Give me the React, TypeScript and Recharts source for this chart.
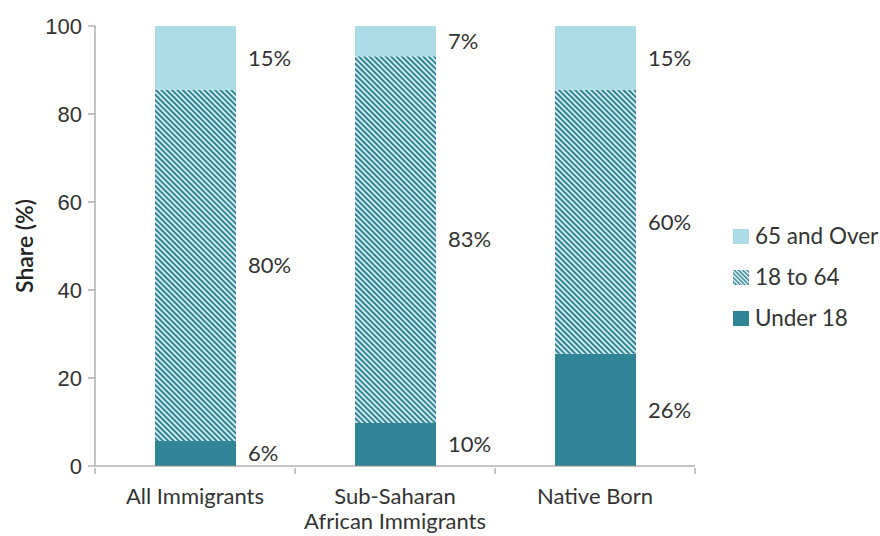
import React from 'react';
import { Bar, BarChart, LabelList, XAxis, YAxis } from 'recharts';

const categories = ['All Immigrants', 'Sub-Saharan\nAfrican Immigrants', 'Native Born'];
const under18 = [5.7, 9.8, 25.5];
const adults = [79.8, 83.3, 60];
const seniors = [14.5, 6.9, 14.5];
const yTicks = [0, 20, 40, 60, 80, 100];

const data = categories.map((name, i) => ({
  name,
  under18: under18[i],
  adults: adults[i],
  seniors: seniors[i]
}));

const TEAL = '#2f8596';
const LIGHT = '#acdbe5';
const AXIS = '#8a8a8a';
const FONT = 'Lato, "Open Sans", sans-serif';

const pct = (v: any) => `${Math.round(Number(v))}%`;

const CategoryTick = (props: any) => {
  const { x, y, payload, index } = props;
  const half = 100;
  const lines = String(payload.value).split('\n');
  return (
    <g>
      <line x1={x - half} y1={y - 6} x2={x - half} y2={y} stroke={AXIS} />
      {index === categories.length - 1 && (
        <line x1={x + half} y1={y - 6} x2={x + half} y2={y} stroke={AXIS} />
      )}
      <text x={x} y={y + 30} textAnchor="middle" fill="#333" fontSize={22} fontFamily={FONT}>
        {lines.map((l, i) => (
          <tspan key={i} x={x} dy={i === 0 ? 0 : 25}>
            {l}
          </tspan>
        ))}
      </text>
    </g>
  );
};

const legendItems = [
  { label: '65 and Over', fill: LIGHT },
  { label: '18 to 64', fill: 'url(#hatchLegend)' },
  { label: 'Under 18', fill: TEAL }
];

const LegendBox = () => (
  <div
    style={{
      position: 'absolute',
      left: 733,
      top: 216,
      fontFamily: FONT,
      fontSize: 22.5,
      color: '#333',
      lineHeight: 1
    }}
  >
    {legendItems.map((it) => (
      <div key={it.label} style={{ display: 'flex', alignItems: 'center', height: 41 }}>
        <svg width={16} height={15} style={{ marginRight: 6 }}>
          <defs>
            <pattern id="hatchLegend" width={3} height={3} patternUnits="userSpaceOnUse" patternTransform="rotate(-45)">
              <rect width={3} height={3} fill="#ffffff" />
              <rect width={1.6} height={3} fill={TEAL} />
            </pattern>
          </defs>
          <rect width={16} height={15} fill={it.fill} />
        </svg>
        <span>{it.label}</span>
      </div>
    ))}
  </div>
);

const App: React.FC = () => {
  return (
    <div style={{ position: 'absolute', left: 0, top: 0, width: 880, height: 536, background: '#fff' }}>
      <BarChart
        width={880}
        height={536}
        data={data}
        margin={{ top: 26, right: 185, left: 0, bottom: 0 }}
        barSize={81}
      >
        <defs>
          <pattern id="hatch" width={3.8} height={3.8} patternUnits="userSpaceOnUse" patternTransform="rotate(-45)">
            <rect width={3.8} height={3.8} fill="#d9eff4" />
            <rect width={2} height={3.8} fill="#2f8494" />
          </pattern>
        </defs>
        <XAxis
          dataKey="name"
          stroke={AXIS}
          tickLine={false}
          tick={<CategoryTick />}
          interval={0}
          height={70}
        />
        <YAxis
          domain={[0, 100]}
          ticks={yTicks}
          width={95}
          stroke={AXIS}
          tickSize={7}
          tickMargin={6}
          tick={{ fill: '#333', fontSize: 22, fontFamily: '"Liberation Sans", Arial, sans-serif' }}
          label={{
            value: 'Share (%)',
            angle: -90,
            position: 'insideLeft',
            offset: 25,
            style: { textAnchor: 'middle', fill: '#222', fontSize: 23, fontWeight: 600, fontFamily: FONT }
          }}
        />
        <Bar dataKey="under18" stackId="a" fill={TEAL} isAnimationActive={false}>
          <LabelList dataKey="under18" position="right" offset={12} formatter={pct} fill="#333" fontSize={22} fontFamily={FONT} />
        </Bar>
        <Bar dataKey="adults" stackId="a" fill="url(#hatch)" isAnimationActive={false}>
          <LabelList dataKey="adults" position="right" offset={12} formatter={pct} fill="#333" fontSize={22} fontFamily={FONT} />
        </Bar>
        <Bar dataKey="seniors" stackId="a" fill={LIGHT} isAnimationActive={false}>
          <LabelList dataKey="seniors" position="right" offset={12} formatter={pct} fill="#333" fontSize={22} fontFamily={FONT} />
        </Bar>
      </BarChart>
      <LegendBox />
    </div>
  );
};

export default App;
